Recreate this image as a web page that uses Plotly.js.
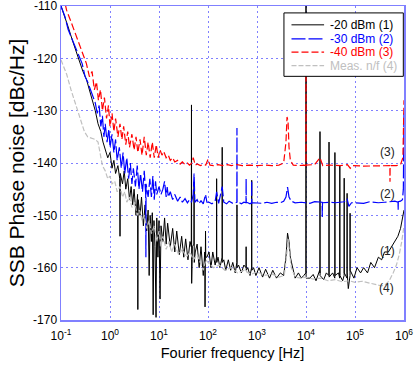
<!DOCTYPE html>
<html>
<head>
<meta charset="utf-8">
<script src="https://cdn.plot.ly/plotly-3.0.1.min.js"></script>
<style>
  html, body { margin: 0; padding: 0; background: #fff; }
  #chart { width: 415px; height: 366px; }
</style>
</head>
<body>
<div id="chart"></div>
<script>
// (1) -20 dBm
var freq1 = [0.1,0.12,0.14,0.17,0.2,0.24,0.28,0.33,0.38,0.43,
  0.5,0.57,0.65,0.72,0.8,0.9,1.0,1.1,1.2,1.3,
  1.45,1.58,1.6,1.62,1.8,1.95,2.1,2.3,2.5,2.7,
  2.9,3.1,3.4,3.65,3.7,3.75,4.1,4.4,4.8,5.2,
  5.6,6.0,6.3,6.6,7.0,7.3,7.6,7.9,8.3,8.7,
  9.0,9.5,10,10.5,11,12,13,14,15,17,
  19,21,23,26,29,32,35,39,43,45.6,
  46,46.4,48,51.6,52,52.4,55,60,66,72,
  80,86,87,88,89,90,95,105,115,125,
  140,149,150,151,160,175,194,195,196,210,
  230,260,290,320,360,388,390,392,420,480,
  540,597,600,603,650,720,776,780,784,850,
  950,1100,1300,1500,1800,2100,2500,3000,3500,3900,
  4200,4500,4800,5200,6000,7000,8000,9000,9950,10000,
  10050,12000,14000,16000,19000,19200,19300,19400,23000,26000,
  29300,29500,29700,35000,38700,38900,39100,46000,48800,49000,
  49200,56000,60000,60200,60400,68800,69000,69200,73000,79200,
  79400,79600,95000,110000,130000,150000,180000,210000,250000,300000,
  350000,400000,480000,550000,650000,750000,850000,950000,1000000];
var pn1 = [-110,-112,-114,-116.5,-118.5,-120.5,-122.5,-124,-126,-128,
  -130,-132.5,-134,-136,-137.5,-139,-138,-141,-139.5,-142,
  -140.5,-143,-154,-142,-144,-141.5,-145,-143,-147,-144.5,
  -148,-145,-150,-146,-168,-147,-150,-146.5,-152,-148,
  -153,-149,-161.5,-150,-155,-149.5,-169,-151,-156,-169.5,
  -150.5,-158,-151,-166,-152,-155,-150.5,-155.5,-151.5,-156,
  -152.5,-157,-153,-157.5,-154,-158,-154.5,-158.5,-155,-156,
  -128.9,-163,-156,-155.5,-143.6,-159,-157,-155.5,-160,-156,
  -161.5,-157,-167.5,-156,-153,-158,-158,-157,-160,-157,
  -159.5,-158,-143,-159,-158,-160,-158,-137,-159,-158.5,
  -160.5,-158.5,-160.5,-159,-161,-159,-148,-160,-159.5,-161,
  -159.5,-160,-156,-160.5,-160,-161.5,-160,-143.3,-160.5,-160,
  -161.5,-160,-161.8,-160.3,-162,-160.5,-162,-161,-161.5,-158,
  -153.4,-155,-158,-159.5,-162,-161,-162,-161.5,-161,-110,
  -162,-162,-161.3,-162.5,-160.5,-161,-134,-161.5,-162.3,-161,
  -161.5,-136,-161.8,-161,-162,-138,-161.5,-161,-162,-140.4,
  -161.5,-162.5,-161.5,-142.9,-161,-162,-145.8,-161,-164,-161.5,
  -149.6,-160.5,-162,-160,-161,-160,-161,-159,-160,-158,
  -158.5,-157,-157,-156,-155,-154,-152.5,-150,-149];

// (2) -30 dBm
var freq2 = [0.1,0.12,0.14,0.17,0.2,0.24,0.27,0.31,0.35,0.4,
  0.45,0.5,0.55,0.6,0.65,0.7,0.75,0.8,0.87,0.95,
  1.0,1.1,1.2,1.3,1.4,1.55,1.7,1.85,2.0,2.2,
  2.4,2.6,2.8,3.0,3.3,3.6,3.9,4.2,4.6,5.0,
  5.35,5.4,5.45,6.0,6.5,7.0,7.5,8.0,8.5,9.0,
  10,11,12,13,14,14.7,15.5,17,19,21,
  24,27,30,34,38,42,46,50,52,54,
  60,65,72,80,89,95,105,120,140,150,
  165,195,210,240,270,320,388,390,392,420,
  480,540,597,600,603,650,720,776,780,784,
  850,1000,1300,1600,2000,2500,3000,3500,3900,4200,
  4500,5000,6000,8000,10000,12000,15000,21300,21500,21700,
  30000,40000,60000,69000,75000,85000,100000,150000,200000,300000,
  400000,500000,650000,755000,760000,765000,850000,930000,970000,990000,
  1000000];
var pn2 = [-110,-112,-114.5,-116.5,-118,-120,-121,-123.5,-124.5,-126,
  -127.5,-128.5,-130.5,-129,-133,-131,-135,-132.5,-136,-133.5,
  -137,-134.5,-138,-135.5,-139.5,-137,-141,-138,-142,-139,
  -143,-140,-144,-141,-144.5,-140.5,-145,-142,-145.5,-141.5,
  -146,-158,-144,-146.5,-143,-146.5,-142.5,-147,-143.5,-146,
  -144.5,-146,-145,-143.5,-146.5,-144.6,-146.5,-145.5,-147,-146,
  -147.3,-146.5,-147.5,-146.8,-147.6,-147,-147.5,-146,-142,-147.5,
  -147,-147.8,-147.2,-147.8,-146,-147.5,-147.5,-147.8,-147.3,-145.5,
  -147.7,-144.5,-147.5,-147.8,-147.3,-147.7,-147.5,-133.3,-147.6,-147.5,
  -147.8,-147.5,-147.6,-143,-147.5,-147.6,-147.8,-147.6,-143.3,-147.7,
  -147.6,-147.6,-147.7,-147.5,-147.7,-147.5,-147.6,-147.3,-146.5,-144.6,
  -146.5,-147.3,-147.6,-147.5,-147.6,-147.7,-147.4,-147.5,-150.3,-147.6,
  -147.5,-147.6,-147.4,-146.8,-148.3,-147.6,-147.6,-147.7,-147.4,-147.6,
  -147.5,-147.4,-147.3,-147.5,-149,-147.4,-147.3,-147,-145,-140,
  -130];

// (3) -40 dBm
var freq3 = [0.1,0.13,0.16,0.2,0.24,0.28,0.33,0.38,0.43,0.48,
  0.53,0.58,0.64,0.7,0.77,0.85,0.93,1.0,1.1,1.2,
  1.3,1.45,1.6,1.75,1.9,2.1,2.3,2.5,2.8,3.1,
  3.4,3.7,4.1,4.5,5.0,5.5,6.0,6.6,7.3,8.0,
  8.8,9.6,10.5,11.5,12.5,14,15.5,17,19,21,
  24,27,30,34,38,42,46,50,55,60,
  70,80,90,100,110,130,160,200,250,300,
  390,500,700,1000,1500,2000,2800,3500,3900,4100,
  4300,4500,4800,5500,7000,9000,9950,10000,10050,15000,
  19300,22000,30000,50000,70000,80000,90000,150000,300000,450000,
  515000,518000,521000,700000,850000,950000,980000,1000000];
var pn3 = [-106,-110.8,-113,-115.5,-117.5,-119.5,-121,-123.5,-122.5,-126,
  -124.5,-128,-126,-130,-127.5,-131.5,-129,-133,-130.5,-134,
  -131.5,-135,-132.5,-135.5,-133,-136.5,-134,-137,-134.5,-137.5,
  -135,-138,-135.5,-138.5,-135,-138.5,-136,-139,-136,-139,
  -136.5,-139,-137.5,-138.5,-137.8,-139,-138.5,-139.5,-139,-139.8,
  -139.5,-140.2,-139.8,-140.3,-140,-140.4,-140.1,-139,-140.4,-140.2,
  -140.5,-140.3,-140.4,-139.3,-140.4,-140.5,-140.3,-140.5,-140.3,-140.5,
  -140.3,-140.5,-140.4,-140.5,-140.4,-140.5,-140.4,-140,-136,-131.2,
  -132,-137,-139.5,-140.4,-140.5,-140.4,-140.5,-118,-140.4,-140.3,
  -139,-140.5,-140.4,-140.5,-140.3,-141,-140.5,-140.6,-140.5,-140.4,
  -140.5,-143.6,-140.5,-140.5,-140.3,-139,-135,-128];

// (4) measurement noise floor
var freq4 = [0.1,0.13,0.16,0.2,0.25,0.3,0.35,0.42,0.5,0.57,
  0.63,0.7,0.8,0.9,1.0,1.1,1.25,1.4,1.6,1.8,
  2.0,2.2,2.5,2.8,3.2,3.6,4.0,4.5,5.0,5.6,
  6.3,7.0,8.0,9.0,10,11,12,14,16,18,
  21,25,30,36,43,50,60,70,80,90,
  100,130,170,220,300,400,550,750,1000,1400,
  2000,2800,3600,4000,4300,4600,5000,6000,8000,10000,
  14000,20000,28000,40000,55000,75000,100000,140000,200000,280000,
  350000,420000,500000,600000,700000,800000,900000,1000000];
var pn4 = [-120.3,-123,-126,-129,-132,-134,-135,-135.3,-135.5,-136,
  -138.5,-140.5,-141.5,-143,-142.5,-144,-143.5,-145.5,-144.5,-146.5,
  -145.5,-147.5,-146.5,-148.5,-147.5,-150,-149,-151,-150,-152.5,
  -151,-153.5,-152,-155,-153,-156,-154,-156.5,-155,-157,
  -155.5,-157.5,-156.5,-158,-157,-158.5,-157.5,-159,-160.5,-158.5,
  -159,-160,-159.5,-160.5,-160,-161,-160.5,-161.3,-160.8,-161.5,
  -161.2,-161.8,-161.5,-158,-154.5,-157,-160,-161.8,-162,-161.8,
  -162.2,-162,-162.5,-162.3,-162.7,-162.5,-162.8,-162.6,-163,-163.3,
  -163.5,-163.2,-162.5,-161,-159.5,-157.5,-155,-152];

var seriesNames = ["-20 dBm (1)", "-30 dBm (2)", "-40 dBm (3)", "Meas. n/f (4)"];
var seriesColors = ["#000000", "#0000ff", "#ff0000", "#c0c0c0"];
var seriesDash = ["solid", "14px,3px", "7px,3px", "5px,2px"];
var curveLabels = ["(1)", "(2)", "(3)", "(4)"];
var labelFreq = [4.6e5, 4.6e5, 4.6e5, 4.3e5];
var labelLevel = [-156.8, -145.9, -137.9, -163.9];

var xTicks = [0.1, 1, 10, 100, 1000, 1e4, 1e5, 1e6];
var xTickText = ["10<sup>-1</sup>", "10<sup>0</sup>", "10<sup>1</sup>", "10<sup>2</sup>",
  "10<sup>3</sup>", "10<sup>4</sup>", "10<sup>5</sup>", "10<sup>6</sup>"];
var yTicks = [-170, -160, -150, -140, -130, -120, -110];
var yTickText = ["-170", "-160", "-150", "-140", "-130", "-120", "-110"];

var xs = [freq1, freq2, freq3, freq4];
var ys = [pn1, pn2, pn3, pn4];

var traces = xs.map(function (x, i) {
  return {
    x: x, y: ys[i], type: "scatter", mode: "lines", name: seriesNames[i],
    line: { color: seriesColors[i], width: i === 0 ? 1 : 1.2, dash: seriesDash[i] }
  };
});

var font = "Liberation Sans, Arial, sans-serif";
var axisBlue = "#8080ff";

// boxed legend drawn in paper coordinates (plotly's own legend rows are too tall)
var legRows = [0.94, 0.895, 0.853, 0.81];
var shapes = [{ type: "rect", xref: "paper", yref: "paper", x0: 0.65, x1: 0.998, y0: 0.776, y1: 0.978,
  fillcolor: "#fff", line: { color: "#000", width: 1 }, layer: "above" }];
var annotations = [];
seriesNames.forEach(function (n, i) {
  shapes.push({ type: "line", xref: "paper", yref: "paper", x0: 0.672, x1: 0.767, y0: legRows[i], y1: legRows[i],
    line: { color: seriesColors[i], width: i === 0 ? 1 : 1.2, dash: seriesDash[i] }, layer: "above" });
  annotations.push({ xref: "paper", yref: "paper", x: 0.778, y: legRows[i], xanchor: "left", yanchor: "middle",
    text: n, showarrow: false, font: { size: 12, color: seriesColors[i] } });
});
curveLabels.forEach(function (t, i) {
  annotations.push({ x: Math.log10(labelFreq[i]), y: labelLevel[i], xref: "x", yref: "y",
    text: t, showarrow: false, font: { size: 12, color: "#222" } });
});

var layout = {
  width: 415, height: 366,
  margin: { l: 61, r: 11, t: 6, b: 46 },
  paper_bgcolor: "#fff", plot_bgcolor: "#fff",
  font: { family: font, size: 12, color: "#000" },
  showlegend: false,
  xaxis: {
    type: "log", range: [-1, 6],
    tickvals: xTicks, ticktext: xTickText, ticks: "", ticklabelstandoff: 4,
    showgrid: true, gridcolor: axisBlue, griddash: "2px,3px", gridwidth: 1,
    showline: true, linecolor: axisBlue, linewidth: 1.5, mirror: true,
    zeroline: false, tickfont: { size: 12 }, ticklabeloverflow: "allow",
    title: { text: "Fourier frequency [Hz]", font: { size: 14.5 }, standoff: 6 }
  },
  yaxis: {
    range: [-170, -110],
    tickvals: yTicks, ticktext: yTickText, ticks: "",
    showgrid: true, gridcolor: axisBlue, griddash: "2px,3px", gridwidth: 1,
    showline: true, linecolor: axisBlue, linewidth: 1.5, mirror: true,
    zeroline: false, tickfont: { size: 12 }, ticklabeloverflow: "allow",
    title: { text: "SSB Phase noise [dBc/Hz]", font: { size: 21 }, standoff: 2 }
  },
  shapes: shapes,
  annotations: annotations
};

Plotly.newPlot("chart", traces, layout, { displayModeBar: false, staticPlot: true });
</script>
</body>
</html>
